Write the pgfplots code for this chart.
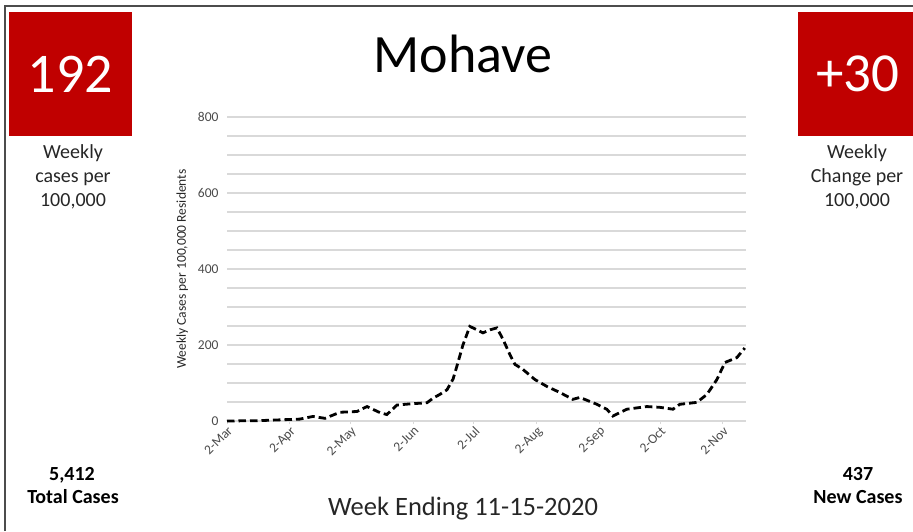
\documentclass[border=0pt]{standalone}
\usepackage{pgfplots}
\pgfplotsset{compat=1.18}
\usepackage{fontspec}
\setmainfont{Carlito}
\definecolor{boxred}{HTML}{C00000}
\definecolor{txt}{HTML}{262626}
\definecolor{ticktxt}{HTML}{4A4A4A}
\definecolor{gridc}{HTML}{D9D9D9}
\begin{document}
\begin{tikzpicture}
\useasboundingbox (0pt,0pt) rectangle (913pt,531pt);
\draw[line width=2pt, color=black!70] (5pt,0pt) -- (5pt,525pt) -- (913pt,525pt);
\fill[boxred] (9pt,395pt) rectangle (132pt,519pt);
\fill[boxred] (798pt,395pt) rectangle (913pt,519pt);
\node[white, font=\fontsize{56}{60}\selectfont, inner sep=0pt] at (70.5pt,457pt) {192};
\node[white, font=\fontsize{55}{60}\selectfont, inner sep=0pt] at (858pt,457pt) {+30};
\node[black, font=\fontsize{54}{60}\selectfont, anchor=base, inner sep=0pt] at (463pt,458pt) {Mohave};
\begin{scope}[every node/.style={txt, font=\fontsize{20}{24}\selectfont, anchor=base, inner sep=0pt}]
\node at (73pt,372pt) {Weekly};
\node at (73pt,348pt) {cases per};
\node at (73pt,324pt) {100,000};
\node at (857pt,372pt) {Weekly};
\node at (857pt,348pt) {Change per};
\node at (857pt,324pt) {100,000};
\end{scope}
\begin{scope}[every node/.style={black, font=\bfseries\fontsize{20}{24}\selectfont, anchor=base, inner sep=0pt}]
\node at (72pt,51pt) {5,412};
\node at (73pt,28pt) {Total Cases};
\node at (858pt,51pt) {437};
\node at (858pt,28pt) {New Cases};
\end{scope}
\node[txt, font=\fontsize{26.5}{30}\selectfont, anchor=base, inner sep=0pt] at (463pt,16pt) {Week Ending 11-15-2020};
\begin{axis}[
  at={(227pt,110pt)}, anchor=south west,
  scale only axis, width=519pt, height=304pt,
  xmin=0, xmax=256.5, ymin=0, ymax=800,
  axis lines*=left,
  y axis line style={draw=none},
  x axis line style={draw=gridc, line width=1.4pt},
  xtick={0,31,61,92,122,153,184,214,245},
  xticklabels={2-Mar,2-Apr,2-May,2-Jun,2-Jul,2-Aug,2-Sep,2-Oct,2-Nov},
  xtick style={draw=gridc, line width=0.8pt},
  xtick align=outside, major tick length=3pt,
  ytick={0,200,400,600,800},
  minor ytick={50,100,150,250,300,350,450,500,550,650,700,750},
  ytick style={draw=none},
  ymajorgrids, yminorgrids,
  major grid style={draw=gridc, line width=1.3pt},
  minor grid style={draw=gridc, line width=1.1pt},
  /pgf/number format/assume math mode=true,
  tick label style={font=\fontsize{13.5}{16}\selectfont, text=ticktxt},
  xticklabel style={rotate=45, anchor=north east, inner sep=1pt},
  yticklabel style={xshift=-5pt},
  ylabel={Weekly Cases per 100,000 Residents},
  ylabel style={font=\fontsize{13.5}{16}\selectfont, text=txt, at={(axis description cs:-0.086,0.5)}, anchor=center},
  clip=false,
]
\addplot[black, line width=2.8pt, dash pattern=on 7.5pt off 4pt] coordinates {
(0,0) (16,1) (26,3) (36,5) (42.5,12) (48.4,7) (55.8,23) (64.2,25) (69.2,38)
(75.6,22) (79,17) (84,42) (90.4,45) (98.8,48) (101.8,60) (105.2,70) (108.7,82)
(111.7,110) (113.6,144) (116.6,200) (120,249) (123.5,240) (126.5,232) (130,240)
(133.4,245) (136.4,215) (139.8,175) (142.3,149) (146.2,136) (152.2,109) (158.1,91)
(164.5,75) (170.9,57) (174.4,62) (182.8,44) (187.7,31) (190.7,13) (197.6,31)
(207.5,38) (213.9,36) (220.4,31) (223.8,44) (232.2,49) (237.2,70) (242.1,109)
(246.1,154) (252,167) (255.9,192)
};
\end{axis}
\end{tikzpicture}
\end{document}
